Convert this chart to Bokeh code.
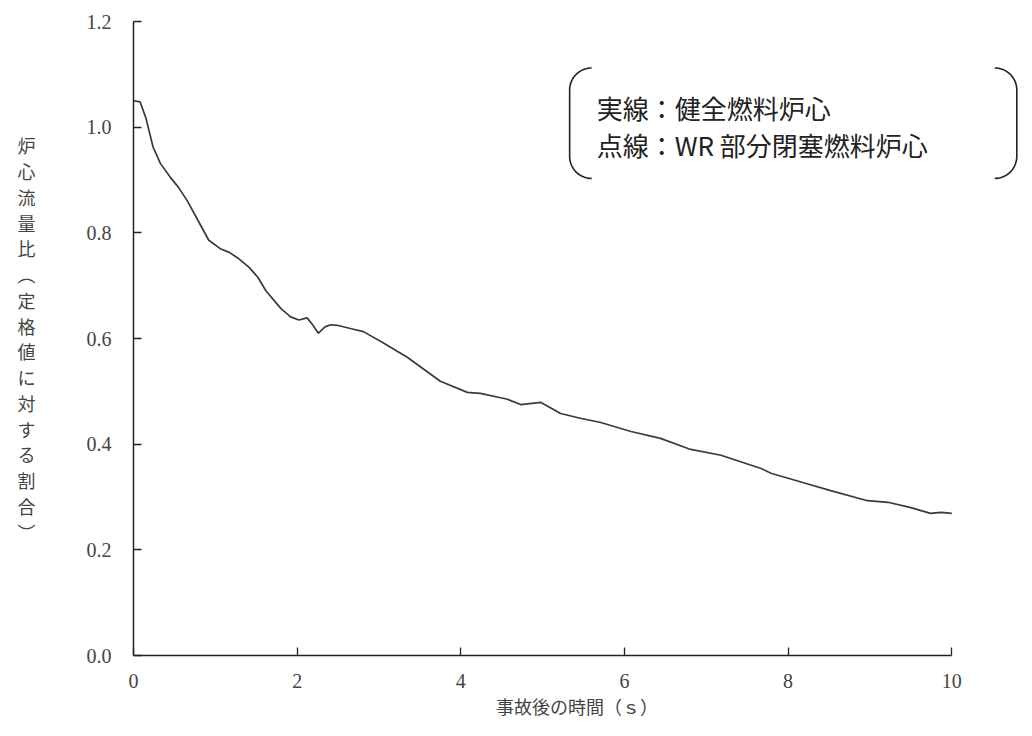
import numpy as np
from bokeh.plotting import figure
from bokeh.models import Range1d, FixedTicker, Label, CustomJSTickFormatter
from bokeh.embed import file_html
from bokeh.resources import INLINE

# ---- data ----
time_s = [0.00, 0.08, 0.15, 0.24, 0.33, 0.45, 0.55, 0.66, 0.80, 0.92, 1.06, 1.17,
          1.27, 1.41, 1.52, 1.62, 1.80, 1.92, 2.02, 2.12, 2.18, 2.26, 2.34, 2.41,
          2.49, 2.65, 2.81, 3.06, 3.35, 3.75, 4.08, 4.24, 4.57, 4.73, 4.98, 5.22,
          5.46, 5.71, 6.08, 6.44, 6.81, 7.18, 7.67, 7.79, 8.19, 8.52, 8.97, 9.22,
          9.50, 9.74, 9.87, 10.00]
flow_ratio = [1.050, 1.048, 1.018, 0.962, 0.931, 0.905, 0.886, 0.860, 0.820, 0.786,
              0.770, 0.763, 0.753, 0.735, 0.716, 0.690, 0.657, 0.641, 0.635, 0.639,
              0.628, 0.610, 0.622, 0.626, 0.625, 0.619, 0.613, 0.591, 0.564, 0.519,
              0.498, 0.496, 0.485, 0.475, 0.479, 0.458, 0.449, 0.441, 0.424, 0.411,
              0.390, 0.379, 0.354, 0.345, 0.327, 0.312, 0.293, 0.290, 0.280, 0.269,
              0.271, 0.269]

x_ticks = [0, 2, 4, 6, 8, 10]
y_ticks = [0.0, 0.2, 0.4, 0.6, 0.8, 1.0, 1.2]
x_title = "事故後の時間（ｓ）"
y_title_chars = list("炉心流量比") + ["︵"] + list("定格値に対する割合") + ["︶"]
legend_lines = ["実線：健全燃料炉心", "点線：WR 部分閉塞燃料炉心"]

X_MAX = 10.84

p = figure(width=1024, height=728, output_backend="svg", toolbar_location=None,
           x_range=Range1d(0, X_MAX), y_range=Range1d(0, 1.2),
           min_border_left=133, min_border_right=4, min_border_top=21,
           min_border_bottom=73)
p.outline_line_color = None
p.grid.visible = False
p.background_fill_color = "white"
p.border_fill_color = "white"

p.line(time_s, flow_ratio, line_color="#3a3a3a", line_width=1.7)

for ax in (p.xaxis[0], p.yaxis[0]):
    ax.axis_line_color = "#222222"
    ax.axis_line_width = 1.5
    ax.major_tick_in = 8
    ax.major_tick_out = 0
    ax.major_tick_line_color = "#222222"
    ax.major_tick_line_width = 1.3
    ax.minor_tick_line_color = None
    ax.major_label_text_font = "Liberation Serif"
    ax.major_label_text_font_size = "20px"
    ax.major_label_text_color = "#444444"
    ax.axis_label_text_font = "Noto Sans CJK JP"
    ax.axis_label_text_font_size = "18px"
    ax.axis_label_text_font_style = "normal"
    ax.axis_label_text_color = "#444444"

p.xaxis.bounds = (0, 10)
p.xaxis.ticker = FixedTicker(ticks=x_ticks)
p.xaxis.major_label_standoff = 18
p.xaxis.axis_label = x_title
p.xaxis.axis_label_standoff = 2

p.yaxis.bounds = (0, 1.2)
p.yaxis.ticker = FixedTicker(ticks=y_ticks)
p.yaxis.formatter = CustomJSTickFormatter(code="return tick.toFixed(1);")
p.yaxis.major_label_standoff = 22
p.yaxis.axis_label = "\n".join(y_title_chars)
p.yaxis.axis_label_orientation = "horizontal"
p.yaxis.axis_label_standoff = 48
p.yaxis.axis_label_text_line_height = 0.99

# legend-like note with brackets
px_per_x = 81.8
px_per_y = 528.3
def dx(px):
    return px / px_per_x
def dy(py):
    return py / px_per_y

y_top = 1.112
y_bot = 0.903
rx = dx(22)
ry = dy(22)
th = np.linspace(0, np.pi / 2, 20)

def bracket(x_vert, side):
    xt = x_vert + side * rx
    top_x = (xt - side * rx * np.cos(th))[::-1]
    top_y = ((y_top - ry) + ry * np.sin(th))[::-1]
    bot_x = xt - side * rx * np.cos(th)
    bot_y = (y_bot + ry) - ry * np.sin(th)
    return np.concatenate([top_x, bot_x]), np.concatenate([top_y, bot_y])

lx, ly = bracket(dx(569 - 133), +1)
rxs, rys = bracket(dx(1016 - 133), -1)
p.line(lx, ly, line_color="#222222", line_width=1.6)
p.line(rxs, rys, line_color="#222222", line_width=1.6)

for i, txt in enumerate(legend_lines):
    p.add_layout(Label(x=dx(596 - 133), y=[1.037, 0.968][i], text=txt,
                       text_font="Noto Sans CJK JP", text_font_size="26px",
                       text_color="#222222", text_baseline="middle",
                       text_align="left"))

open("out.html", "w").write(file_html(p, INLINE))
